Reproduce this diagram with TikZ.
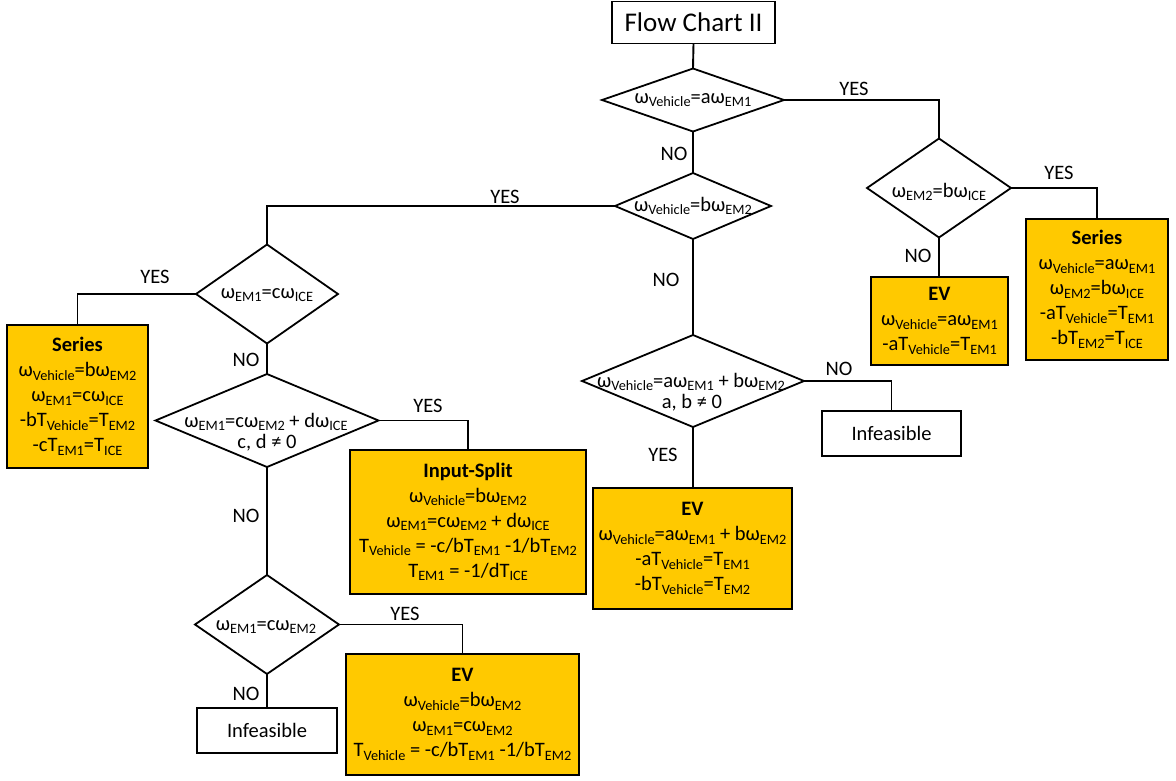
\documentclass[tikz,border=0pt]{standalone}
\usepackage{fontspec}
\setmainfont{Carlito}
\usetikzlibrary{shapes.geometric}
\newcommand{\lo}[1]{\raisebox{-3.5pt}{\fontsize{14.3}{14.3}\selectfont #1}}
\definecolor{gold}{RGB}{255,201,0}
\begin{document}
\begin{tikzpicture}[x=1pt,y=-1pt,
  every node/.style={font=\fontsize{20.5}{25}\selectfont, inner sep=0pt, outer sep=0pt},
  dia/.style n args={2}{draw, shape=diamond, line width=1.8pt, minimum width=#1, minimum height=#2},
  gbox/.style n args={2}{draw, rectangle, fill=gold, line width=2pt, minimum width=#1, minimum height=#2, align=center},
  wbox/.style n args={2}{draw, rectangle, fill=white, line width=1.8pt, minimum width=#1, minimum height=#2, align=center},
  conn/.style={line width=1.9pt},
  dtext/.style={align=center},
  dline/.style={anchor=base}
]
\fill[white] (0,0) rectangle (1176,780);
\useasboundingbox (0,0) rectangle (1176,780);

% title
\node[wbox={163}{42}, font=\fontsize{27}{30}\selectfont] (title) at (693.5,22.5) {Flow Chart II};

% decisions
\node[dia={182}{63}] (d1) at (693,100) {};
\node[dtext] (d1t) at (693,100) {ω\lo{Vehicle}=aω\lo{EM1}};

\node[dia={144}{99}] (d2) at (939,188) {};
\node[dtext] (d2t) at (939,192) {ω\lo{EM2}=bω\lo{ICE}};

\node[dia={156}{66}] (d3) at (693,206) {};
\node[dtext] (d3t) at (693,206) {ω\lo{Vehicle}=bω\lo{EM2}};

\node[dia={142}{99}] (d4) at (267,294) {};
\node[dtext] (d4t) at (267,295) {ω\lo{EM1}=cω\lo{ICE}};

\node[dia={222}{92}] (d5) at (693,381) {};
\node[dline] (d5a) at (691,387) {ω\lo{Vehicle}=aω\lo{EM1} + bω\lo{EM2}};
\node[dline] (d5b) at (692,408) {a, b ≠ 0};

\node[dia={223}{93}] (d6) at (267,420.5) {};
\node[dline] (d6a) at (266,427) {ω\lo{EM1}=cω\lo{EM2} + dω\lo{ICE}};
\node[dline] (d6b) at (267,448) {c, d ≠ 0};

\node[dia={144}{99}] (d7) at (267,624.5) {};
\node[dtext] (d7t) at (266,627) {ω\lo{EM1}=cω\lo{EM2}};

% result boxes
\node[gbox={137}{88}] (evr) at (939.5,321) {\textbf{EV}\\ω\lo{Vehicle}=aω\lo{EM1}\\-aT\lo{Vehicle}=T\lo{EM1}};
\node[gbox={142}{141}] (serr) at (1097,289.5) {\textbf{Series}\\ω\lo{Vehicle}=aω\lo{EM1}\\ω\lo{EM2}=bω\lo{ICE}\\-aT\lo{Vehicle}=T\lo{EM1}\\-bT\lo{EM2}=T\lo{ICE}};
\node[wbox={139}{45}] (inf1) at (891.5,433.5) {Infeasible};
\node[gbox={199}{121}] (evm) at (692.5,548.5) {\textbf{EV}\\ω\lo{Vehicle}=aω\lo{EM1} + bω\lo{EM2}\\-aT\lo{Vehicle}=T\lo{EM1}\\-bT\lo{Vehicle}=T\lo{EM2}};
\node[gbox={141}{143}] (serl) at (77.5,396.5) {\textbf{Series}\\ω\lo{Vehicle}=bω\lo{EM2}\\ω\lo{EM1}=cω\lo{ICE}\\-bT\lo{Vehicle}=T\lo{EM2}\\-cT\lo{EM1}=T\lo{ICE}};
\node[gbox={236}{144}] (ins) at (468,522) {\textbf{Input-Split}\\ω\lo{Vehicle}=bω\lo{EM2}\\ω\lo{EM1}=cω\lo{EM2} + dω\lo{ICE}\\T\lo{Vehicle} = -c/bT\lo{EM1} -1/bT\lo{EM2}\\T\lo{EM1} = -1/dT\lo{ICE}};
\node[gbox={233}{121}] (evb) at (462.5,714.5) {\textbf{EV}\\ω\lo{Vehicle}=bω\lo{EM2}\\ω\lo{EM1}=cω\lo{EM2}\\T\lo{Vehicle} = -c/bT\lo{EM1} -1/bT\lo{EM2}};
\node[wbox={140}{45}] (inf2) at (267,730.5) {Infeasible};

% connectors
\draw[conn] (title.south) -- (d1.north);
\draw[conn] (d1.east) -| (d2.north);
\draw[conn] (d2.east) -| (serr.north);
\draw[conn] (d2.south) -- (evr.north -| d2.south);
\draw[conn] (d1.south) -- (d3.north);
\draw[conn] (d3.west) -| (d4.north);
\draw[conn] (d3.south) -- (d5.north);
\draw[conn] (d5.east) -| (inf1.north);
\draw[conn] (d5.south) -- (evm.north -| d5.south);
\draw[conn] (d4.west) -| (serl.north);
\draw[conn] (d4.south) -- (d6.north);
\draw[conn] (d6.east) -| (ins.north);
\draw[conn] (d6.south) -- (d7.north);
\draw[conn] (d7.east) -| (evb.north);
\draw[conn] (d7.south) -- (inf2.north);

% labels
\node (l1) at (854,89) {YES};
\node (l2) at (1059,173) {YES};
\node (l3) at (918,256) {NO};
\node (l4) at (674,154) {NO};
\node (l5) at (505,197) {YES};
\node (l6) at (666,280) {NO};
\node (l7) at (839,369) {NO};
\node (l8) at (663,455) {YES};
\node (l9) at (155,277) {YES};
\node (l10) at (246,360) {NO};
\node (l11) at (428,406) {YES};
\node (l12) at (246,516) {NO};
\node (l13) at (405,614) {YES};
\node (l14) at (246,694) {NO};
\end{tikzpicture}
\end{document}
